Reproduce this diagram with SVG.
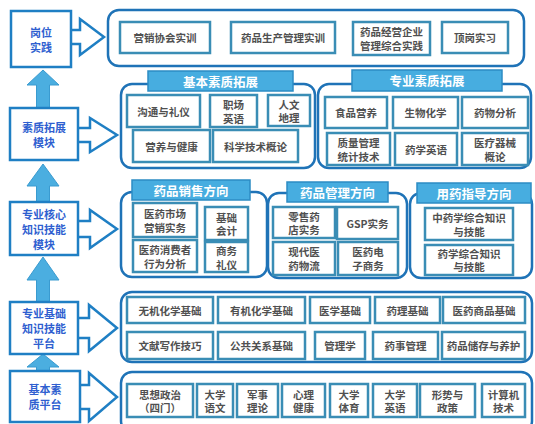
<svg xmlns="http://www.w3.org/2000/svg" width="535" height="424" viewBox="0 0 535 424">
<style>
.bg{fill:#fff}
.cont{fill:#fff;stroke:#1F73B7;stroke-width:2.5}
.box{fill:#fff;stroke:#3A8DB5;stroke-width:2.5}
.lbox{fill:#fff;stroke:#1F7FC4;stroke-width:2.5}
.hdr{fill:#47ADE0;stroke:#2C8CC4;stroke-width:1.5}
.t{font-family:"Noto Sans CJK SC","Liberation Sans",sans-serif;font-size:10.5px;font-weight:bold;fill:#505050;text-anchor:middle;dominant-baseline:central}
.lt{font-family:"Noto Sans CJK SC","Liberation Sans",sans-serif;font-size:11px;font-weight:bold;fill:#2F5FD0;text-anchor:middle;dominant-baseline:central}
.ht{font-family:"Noto Sans CJK SC","Liberation Sans",sans-serif;font-size:12.5px;font-weight:bold;fill:#fff;text-anchor:middle;dominant-baseline:central}
.ra{fill:#fff;stroke:#1F7FC4;stroke-width:2.5;stroke-linejoin:miter}
.ua{fill:#4BAEE0;stroke:#3A9BD0;stroke-width:1}
</style>
<rect class="bg" x="0" y="0" width="535" height="424"/>

<g id="connectors">
<path class="ra" d="M71,30 L80,30 L80,19 L104,37 L80,55 L80,44 L71,44"/>
<path class="ra" d="M78,128 L90,128 L90,118 L117,135 L90,152 L90,142 L78,142"/>
<path class="ra" d="M78,221 L90,221 L90,210 L117,229 L90,248 L90,237 L78,237"/>
<path class="ra" d="M78,318 L89,318 L89,305 L117,328 L89,351 L89,338 L78,338"/>
<path class="ra" d="M80,385 L89,385 L89,373 L117,397 L89,421 L89,409 L80,409"/>
<path class="ua" d="M43,70 L59,85 L49.5,85 L49.5,108 L36.5,108 L36.5,85 L27,85 Z"/>
<path class="ua" d="M43,164 L59,186 L49.5,186 L49.5,202 L36.5,202 L36.5,186 L27,186 Z"/>
<path class="ua" d="M43,257 L59,280 L49.5,280 L49.5,302 L36.5,302 L36.5,280 L27,280 Z"/>
<path class="ua" d="M43,354 L59,367 L49.5,367 L49.5,372 L36.5,372 L36.5,367 L27,367 Z"/>
</g>

<g id="left-column">
<g id="n-gangwei"><rect class="lbox" x="11" y="11" width="60" height="56"/><text class="lt" x="41" y="31.5">岗位</text><text class="lt" x="41" y="46.5">实践</text></g>
<g id="n-suzhi"><rect class="lbox" x="10" y="108" width="68" height="52"/><text class="lt" x="44" y="126.5">素质拓展</text><text class="lt" x="44" y="141.5">模块</text></g>
<g id="n-hexin"><rect class="lbox" x="10" y="202" width="68" height="53"/><text class="lt" x="44" y="213.5">专业核心</text><text class="lt" x="44" y="228.5">知识技能</text><text class="lt" x="44" y="243.5">模块</text></g>
<g id="n-jichu"><rect class="lbox" x="10" y="302" width="68" height="52"/><text class="lt" x="44" y="313">专业基础</text><text class="lt" x="44" y="328">知识技能</text><text class="lt" x="44" y="343">平台</text></g>
<g id="n-jiben"><rect class="lbox" x="10" y="371" width="70" height="51"/><text class="lt" x="45" y="389">基本素</text><text class="lt" x="45" y="404">质平台</text></g>
</g>

<g id="row-gangwei">
<rect class="cont" x="108" y="10" width="416" height="56" rx="11"/>
<g id="n-yingxiao"><rect class="box" x="120" y="22" width="90" height="31"/><text class="t" x="165" y="37.5">营销协会实训</text></g>
<g id="n-shengchan"><rect class="box" x="231" y="22" width="104" height="31"/><text class="t" x="283" y="37.5">药品生产管理实训</text></g>
<g id="n-zonghe"><rect class="box" x="353" y="22" width="77" height="33"/><text class="t" x="391.5" y="31.5">药品经营企业</text><text class="t" x="391.5" y="45">管理综合实践</text></g>
<g id="n-dinggang"><rect class="box" x="442" y="22" width="66" height="31"/><text class="t" x="475" y="37.5">顶岗实习</text></g>
</g>

<g id="row-tuozhan">
<rect class="cont" x="121" y="84" width="194" height="84" rx="11"/>
<g id="h-jiben"><rect class="hdr" x="148" y="71" width="145" height="20"/><text class="ht" x="220.5" y="81">基本素质拓展</text></g>
<g id="n-goutong"><rect class="box" x="127" y="95" width="73" height="32"/><text class="t" x="163.5" y="111">沟通与礼仪</text></g>
<g id="n-zhichang"><rect class="box" x="210" y="95" width="47" height="32"/><text class="t" x="233.5" y="104.5">职场</text><text class="t" x="233.5" y="118">英语</text></g>
<g id="n-renwen"><rect class="box" x="268" y="95" width="42" height="31"/><text class="t" x="289" y="104">人文</text><text class="t" x="289" y="117.5">地理</text></g>
<g id="n-yingyang"><rect class="box" x="133" y="130" width="77" height="32"/><text class="t" x="171.5" y="146">营养与健康</text></g>
<g id="n-kexue"><rect class="box" x="213" y="130" width="85" height="32"/><text class="t" x="255.5" y="146">科学技术概论</text></g>

<rect class="cont" x="318" y="84" width="213" height="84" rx="11"/>
<g id="h-zhuanye"><rect class="hdr" x="352" y="70" width="150" height="21"/><text class="ht" x="427" y="80.5">专业素质拓展</text></g>
<g id="n-shipin"><rect class="box" x="325" y="97" width="62" height="31"/><text class="t" x="356" y="112.5">食品营养</text></g>
<g id="n-shenghua"><rect class="box" x="393" y="97" width="65" height="31"/><text class="t" x="425.5" y="112.5">生物化学</text></g>
<g id="n-yaowu"><rect class="box" x="462" y="97" width="66" height="31"/><text class="t" x="495" y="112.5">药物分析</text></g>
<g id="n-zhiliang"><rect class="box" x="327" y="133" width="63" height="32"/><text class="t" x="358.5" y="142.5">质量管理</text><text class="t" x="358.5" y="156">统计技术</text></g>
<g id="n-yaoxueyy"><rect class="box" x="395" y="133" width="62" height="32"/><text class="t" x="426" y="149">药学英语</text></g>
<g id="n-yiliao"><rect class="box" x="462" y="133" width="66" height="32"/><text class="t" x="495" y="142.5">医疗器械</text><text class="t" x="495" y="156">概论</text></g>
</g>

<g id="row-hexin">
<rect class="cont" x="121" y="192" width="146" height="85" rx="11"/>
<g id="h-xiaoshou"><rect class="hdr" x="132" y="180" width="118" height="20"/><text class="ht" x="191" y="190">药品销售方向</text></g>
<g id="n-shichang"><rect class="box" x="133" y="203" width="64" height="34"/><text class="t" x="165" y="213.5">医药市场</text><text class="t" x="165" y="227">营销实务</text></g>
<g id="n-kuaiji"><rect class="box" x="205" y="207" width="43" height="33"/><text class="t" x="226.5" y="217">基础</text><text class="t" x="226.5" y="230.5">会计</text></g>
<g id="n-xiaofei"><rect class="box" x="133" y="240" width="64" height="32"/><text class="t" x="165" y="249.5">医药消费者</text><text class="t" x="165" y="263">行为分析</text></g>
<g id="n-liyi"><rect class="box" x="205" y="242" width="43" height="30"/><text class="t" x="226.5" y="250.5">商务</text><text class="t" x="226.5" y="264">礼仪</text></g>

<rect class="cont" x="268" y="193" width="139" height="85" rx="11"/>
<g id="h-guanli"><rect class="hdr" x="287" y="182" width="101" height="20"/><text class="ht" x="337.5" y="192">药品管理方向</text></g>
<g id="n-lingshou"><rect class="box" x="273" y="207" width="62" height="31"/><text class="t" x="304" y="216">零售药</text><text class="t" x="304" y="229.5">店实务</text></g>
<g id="n-gsp"><rect class="box" x="337" y="207" width="61" height="32"/><text class="t" x="367.5" y="223">GSP实务</text></g>
<g id="n-wuliu"><rect class="box" x="273" y="242" width="62" height="33"/><text class="t" x="304" y="251.5">现代医</text><text class="t" x="304" y="265">药物流</text></g>
<g id="n-dianzi"><rect class="box" x="338" y="242" width="60" height="33"/><text class="t" x="368" y="251.5">医药电</text><text class="t" x="368" y="265">子商务</text></g>

<rect class="cont" x="410" y="193" width="122" height="85" rx="11"/>
<g id="h-zhidao"><rect class="hdr" x="417" y="183" width="114" height="20"/><text class="ht" x="474" y="193">用药指导方向</text></g>
<g id="n-zhongyao"><rect class="box" x="425" y="208" width="88" height="32"/><text class="t" x="469" y="217.5">中药学综合知识</text><text class="t" x="469" y="231">与技能</text></g>
<g id="n-yaoxue"><rect class="box" x="425" y="245" width="88" height="30"/><text class="t" x="469" y="253">药学综合知识</text><text class="t" x="469" y="266.5">与技能</text></g>
</g>

<g id="row-jichu">
<rect class="cont" x="121" y="292" width="411" height="70" rx="11"/>
<g id="n-wuji"><rect class="box" x="127" y="297" width="86" height="26"/><text class="t" x="170" y="310">无机化学基础</text></g>
<g id="n-youji"><rect class="box" x="218" y="297" width="87" height="26"/><text class="t" x="261.5" y="310">有机化学基础</text></g>
<g id="n-yixue"><rect class="box" x="310" y="297" width="60" height="26"/><text class="t" x="340" y="310">医学基础</text></g>
<g id="n-yaoli"><rect class="box" x="375" y="297" width="65" height="26"/><text class="t" x="407.5" y="310">药理基础</text></g>
<g id="n-shangpin"><rect class="box" x="443" y="297" width="82" height="26"/><text class="t" x="484" y="310">医药商品基础</text></g>
<g id="n-wenxian"><rect class="box" x="127" y="332" width="86" height="27"/><text class="t" x="170" y="345.5">文献写作技巧</text></g>
<g id="n-gonggong"><rect class="box" x="218" y="332" width="87" height="27"/><text class="t" x="261.5" y="345.5">公共关系基础</text></g>
<g id="n-guanlixue"><rect class="box" x="315" y="332" width="50" height="27"/><text class="t" x="340" y="345.5">管理学</text></g>
<g id="n-yaoshi"><rect class="box" x="373" y="332" width="65" height="27"/><text class="t" x="405.5" y="345.5">药事管理</text></g>
<g id="n-chucun"><rect class="box" x="442" y="332" width="83" height="27"/><text class="t" x="483.5" y="345.5">药品储存与养护</text></g>
</g>

<g id="row-jiben">
<rect class="cont" x="121" y="372" width="411" height="60" rx="11"/>
<g id="n-sixiang"><rect class="box" x="127" y="384" width="66" height="33"/><text class="t" x="160" y="394">思想政治</text><text class="t" x="160" y="407.5">（四门）</text></g>
<g id="n-yuwen"><rect class="box" x="197" y="384" width="36" height="33"/><text class="t" x="215" y="394">大学</text><text class="t" x="215" y="407.5">语文</text></g>
<g id="n-junshi"><rect class="box" x="237" y="384" width="41" height="33"/><text class="t" x="257.5" y="394">军事</text><text class="t" x="257.5" y="407.5">理论</text></g>
<g id="n-xinli"><rect class="box" x="282" y="384" width="43" height="33"/><text class="t" x="303.5" y="394">心理</text><text class="t" x="303.5" y="407.5">健康</text></g>
<g id="n-tiyu"><rect class="box" x="330" y="384" width="38" height="33"/><text class="t" x="349" y="394">大学</text><text class="t" x="349" y="407.5">体育</text></g>
<g id="n-yingyu"><rect class="box" x="373" y="384" width="44" height="33"/><text class="t" x="395" y="394">大学</text><text class="t" x="395" y="407.5">英语</text></g>
<g id="n-xingshi"><rect class="box" x="420" y="384" width="55" height="33"/><text class="t" x="447.5" y="394">形势与</text><text class="t" x="447.5" y="407.5">政策</text></g>
<g id="n-jisuanji"><rect class="box" x="482" y="384" width="43" height="33"/><text class="t" x="503.5" y="394">计算机</text><text class="t" x="503.5" y="407.5">技术</text></g>
</g>
</svg>
